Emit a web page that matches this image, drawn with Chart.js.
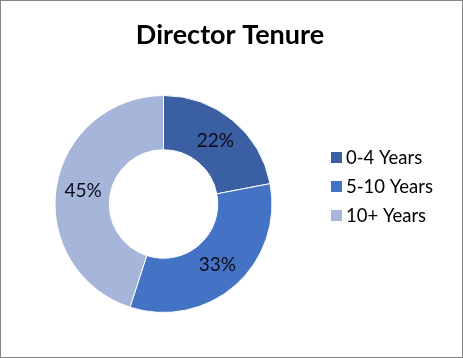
<!DOCTYPE html>
<html>
<head>
<meta charset="utf-8">
<script src="https://cdn.jsdelivr.net/npm/chart.js@4.4.0/dist/chart.umd.min.js"></script>
<style>
  html, body { margin: 0; padding: 0; background: #fff; }
  #wrap { width: 463px; height: 358px; box-sizing: border-box; border: 1px solid #868686; position: relative; }
  canvas { display: block; }
</style>
</head>
<body>
<div id="wrap"><canvas id="pie-chart" width="461" height="356"></canvas></div>
<script>
// chart data
var categories = ["0-4 Years", "5-10 Years", "10+ Years"];
var shares = [22, 33, 45];
var sliceColors = ["#3A5FA3", "#4472C4", "#A6B5DA"];
var chartTitle = "Director Tenure";

var FONT = "Lato, 'Open Sans', sans-serif";

// percent labels inside each slice
var sliceLabels = {
  id: 'sliceLabels',
  afterDatasetsDraw: function(chart) {
    var ctx = chart.ctx;
    var meta = chart.getDatasetMeta(0);
    ctx.save();
    ctx.font = "19px " + FONT;
    ctx.fillStyle = "#0d0d1a";
    ctx.textAlign = "center";
    ctx.textBaseline = "middle";
    meta.data.forEach(function(arc, i) {
      var p = arc.tooltipPosition();
      ctx.fillText(shares[i] + "%", p.x, p.y);
    });
    ctx.restore();
  }
};

// legend on the right, Excel style
var sideLegend = {
  id: 'sideLegend',
  afterDraw: function(chart) {
    var ctx = chart.ctx;
    var x = 330, y0 = 156, step = 29;
    ctx.save();
    ctx.font = "18.5px " + FONT;
    ctx.textBaseline = "middle";
    ctx.textAlign = "left";
    chart.data.labels.forEach(function(lab, i) {
      var y = y0 + i * step;
      ctx.fillStyle = chart.data.datasets[0].backgroundColor[i];
      ctx.fillRect(x, y - 5, 11, 11);
      ctx.fillStyle = "#000";
      ctx.fillText(lab, x + 15, y + 1);
    });
    ctx.restore();
  }
};

var config = {
  type: 'doughnut',
  data: {
    labels: categories,
    datasets: [{
      data: shares,
      backgroundColor: sliceColors,
      borderColor: "#fff",
      borderWidth: 1,
      hoverOffset: 0
    }]
  },
  options: {
    responsive: false,
    animation: false,
    cutout: '50%',
    layout: { padding: { left: 53, right: 189, top: 94, bottom: 44 } },
    plugins: {
      legend: { display: false },
      tooltip: { enabled: false },
      title: { display: false }
    }
  },
  plugins: [sliceLabels, sideLegend, {
    id: 'topTitle',
    afterDraw: function(chart) {
      var ctx = chart.ctx;
      ctx.save();
      ctx.font = "bold 27px " + FONT;
      ctx.fillStyle = "#000";
      ctx.textAlign = "center";
      ctx.textBaseline = "alphabetic";
      ctx.fillText(chartTitle, 229, 43);
      ctx.restore();
    }
  }]
};

var ctx = document.getElementById('pie-chart').getContext('2d');
window.myPie = new Chart(ctx, config);
</script>
</body>
</html>
